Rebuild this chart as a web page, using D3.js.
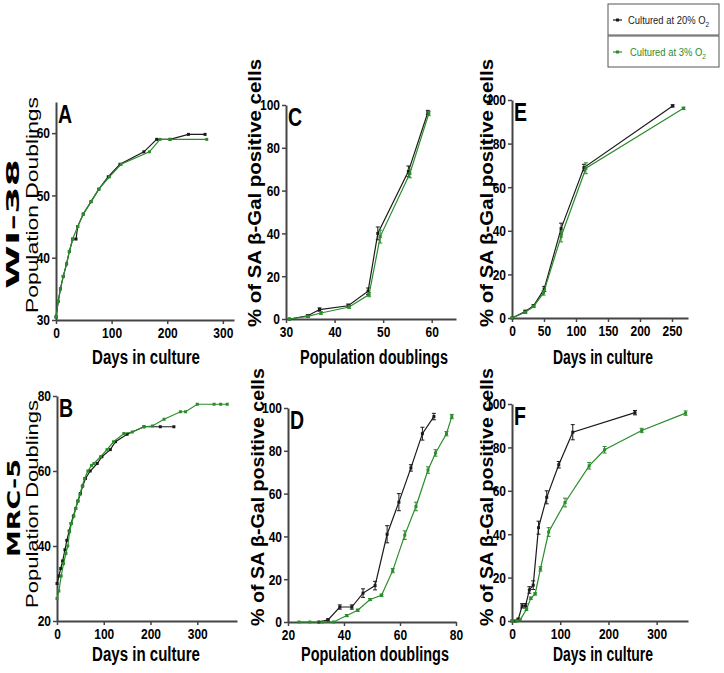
<!DOCTYPE html>
<html>
<head>
<meta charset="utf-8">
<script src="https://cdn.jsdelivr.net/npm/d3@7"></script>
<style>
  body { margin: 0; background: #fff; }
  svg { display: block; }
</style>
</head>
<body>
<svg id="chart"></svg>
<script>
// ---- data ----
// A: WI-38 population doublings vs days
const aDays20 = [0, 4, 8, 13, 19, 24, 30, 36, 39, 49, 63, 77, 94, 115, 158, 181, 205, 238, 268];
const aPD20 = [30.5, 33, 35, 37, 39, 41, 43, 43, 45, 47, 49, 51, 53, 55, 57, 59, 59, 59.8, 59.8];
const aDays3 = [0, 4, 8, 13, 19, 24, 30, 39, 49, 63, 77, 96, 117, 168, 187, 205, 271];
const aPD3 = [30.5, 33, 35, 37, 39, 41, 43, 45, 47, 49, 51, 53, 55, 57, 59, 59, 59];

// B: MRC-5 population doublings vs days
const bDays20 = [0, 4, 8, 12, 17, 21, 26, 30, 35, 40, 45, 50, 55, 61, 71, 86, 96, 114, 125, 150, 186, 221, 250];
const bPD20 = [30, 32, 34, 36, 39, 41.5, 44, 46, 48, 50, 52, 54, 56, 58, 60, 62, 63.8, 65.7, 67.8, 69.8, 71.8, 71.8, 71.8];
const bDays3 = [0, 4, 9, 14, 19, 23, 27, 31, 36, 40, 44, 49, 54, 59, 66, 74, 79, 93, 107, 121, 143, 161, 186, 204, 229, 264, 275, 300, 336, 350, 364];
const bPD3 = [26, 28, 32, 35.3, 38, 40, 43.8, 46, 48, 50, 52, 53.7, 56, 58, 60, 61.5, 62, 63.8, 65.7, 67.8, 70, 70.4, 71.8, 72, 73.8, 75.8, 75.8, 77.8, 77.8, 77.8, 77.8];

// C: WI-38 % SA b-Gal vs population doublings
const cPD20 = [30.7, 34.5, 36.9, 42.8, 46.9, 48.9, 55.2, 59.2];
const cPct20 = [0, 1.5, 4.4, 6.2, 13, 40, 69, 96.5];
const cErr20 = [0, 0.5, 0.8, 0.8, 1.5, 3, 2.5, 1];
const cPD3 = [30.7, 34.5, 37.2, 43, 47.1, 49.4, 55.5, 59.4];
const cPct3 = [0, 1.2, 2.8, 5.6, 11.4, 38.5, 68, 96];
const cErr3 = [0, 0.5, 0.6, 0.6, 1, 3, 2, 1];

// D: MRC-5 % SA b-Gal vs population doublings
const dPD20 = [31, 34.3, 38.5, 42.8, 46.8, 51.1, 55.4, 59.6, 63.9, 68, 72.1];
const dPct20 = [0, 1, 7, 7, 13.5, 17, 41, 56, 72, 88, 96];
const dErr20 = [0, 0.5, 1, 1, 2, 2, 4, 4, 1.5, 3, 1.5];
const dPD3 = [23.9, 27.8, 32.2, 36.3, 41, 44.9, 49.3, 53.4, 57.4, 61.7, 65.7, 70, 72.7, 76.6, 78.5];
const dPct3 = [0, 0, 0, 0, 3, 5.5, 10.5, 12.5, 24, 40.6, 54, 71, 79, 88, 96];
const dErr3 = [0, 0, 0, 0, 0.5, 0.5, 0.5, 0.5, 1, 2, 2, 1.5, 1.5, 1, 1];

// E: WI-38 % SA b-Gal vs days
const eDays20 = [0, 20.7, 33.7, 50.3, 76.7, 112.4, 251];
const ePct20 = [0, 3, 5.6, 13.3, 41, 69, 97.3];
const eErr20 = [0, 0.6, 0.5, 1.2, 2.5, 1.5, 0.5];
const eDays3 = [0, 20.7, 33.7, 49.2, 76.7, 115.5, 268];
const ePct3 = [0, 2.6, 5.3, 11.5, 37.4, 68.7, 96.2];
const eErr3 = [0, 0.5, 0.5, 1, 2.5, 2.5, 0.5];

// F: MRC-5 % SA b-Gal vs days
const fDays20 = [0, 7, 13, 21, 28, 36, 44, 55, 72, 97, 126, 255];
const fPct20 = [0, 0, 0.8, 7, 7, 14.3, 16.5, 43, 57, 72, 87, 96];
const fErr20 = [0, 0, 0.5, 1, 1, 1.5, 2, 3, 3, 1.5, 3.5, 1];
const fDays3 = [0, 10, 17, 30, 39, 48, 59, 76, 110, 160, 192, 269, 360];
const fPct3 = [0, 0, 0.5, 5.4, 10.5, 12.5, 24, 41, 54.6, 71.5, 78.9, 87.8, 95.8];
const fErr3 = [0, 0, 0, 0.5, 0.5, 0.5, 1, 2, 2, 1.5, 1.5, 1, 1];

// tick labels
const ticksDaysA = [0, 100, 200, 300];
const ticksDaysB = [0, 100, 200, 300];
const ticksPDA = [30, 40, 50, 60];
const ticksPDB = [20, 40, 60, 80];
const ticksPct = [0, 20, 40, 60, 80, 100];
const ticksPopC = [30, 40, 50, 60];
const ticksPopD = [20, 40, 60, 80];
const ticksDaysE = [0, 50, 100, 150, 200, 250];
const ticksDaysF = [0, 100, 200, 300];

const legendLabels = ["Cultured at 20% O", "Cultured at 3% O"];

// ---- drawing ----
const W = 724, H = 673;
const BLACK = "#1a1a1a", GREEN = "#2a8c2a";
const SANS = "'Liberation Sans', Arial, sans-serif";
const SQ = 0.8; // the figure is squeezed sideways

const svg = d3.select("#chart").attr("width", W).attr("height", H)
  .style("background", "#fff");

const zip = (xs, ys, es) => xs.map((x, i) => ({ x, y: ys[i], e: es ? es[i] : 0 }));

function panel(p) {
  const x = d3.scaleLinear().domain(p.xDomain).range(p.xRange);
  const y = d3.scaleLinear().domain(p.yDomain).range(p.yRange);
  const g = svg.append("g");

  // axes
  const ax = g.append("g")
    .attr("transform", `translate(0,${p.yRange[0]})`)
    .call(d3.axisBottom(x).tickValues(p.xTicks).tickSize(4).tickPadding(3).tickSizeOuter(0));
  const ay = g.append("g")
    .attr("transform", `translate(${p.xRange[0]},0)`)
    .call(d3.axisLeft(y).tickValues(p.yTicks).tickSize(4).tickPadding(2).tickSizeOuter(0));
  [ax, ay].forEach(a => {
    a.select(".domain").attr("stroke", "#444").attr("stroke-width", 2);
    a.selectAll(".tick line").attr("stroke", "#444").attr("stroke-width", 1.5);
    a.selectAll("text").attr("fill", "#000").attr("font-family", SANS)
      .attr("font-weight", "bold").attr("font-size", 15)
      .attr("transform", `scale(${SQ},1)`);
  });
  ay.selectAll("text").attr("x", -6 / SQ);

  // series
  p.series.forEach(s => {
    const pts = zip(s.xs, s.ys, s.es);
    g.append("path")
      .datum(pts)
      .attr("fill", "none")
      .attr("stroke", s.color)
      .attr("stroke-width", 1.2)
      .attr("d", d3.line().x(d => x(d.x)).y(d => y(d.y)));
    if (s.es) {
      const eb = g.append("g").attr("stroke", s.color).attr("stroke-width", 1);
      pts.filter(d => d.e > 0).forEach(d => {
        const cx = x(d.x), y0 = y(d.y - d.e), y1 = y(d.y + d.e);
        eb.append("line").attr("x1", cx).attr("x2", cx).attr("y1", y0).attr("y2", y1);
        eb.append("line").attr("x1", cx - 2).attr("x2", cx + 2).attr("y1", y0).attr("y2", y0);
        eb.append("line").attr("x1", cx - 2).attr("x2", cx + 2).attr("y1", y1).attr("y2", y1);
      });
    }
    g.selectAll(null).data(pts).enter().append("rect")
      .attr("x", d => x(d.x) - 1.5).attr("y", d => y(d.y) - 1.5)
      .attr("width", 3).attr("height", 3)
      .attr("fill", s.color);
  });

  // panel letter
  g.append("text")
    .attr("transform", `translate(${p.xRange[0] + 2},${p.yRange[1] + 21}) scale(0.75,1)`)
    .attr("font-family", SANS).attr("font-weight", "bold").attr("font-size", 26)
    .text(p.letter);

  // x title
  g.append("text")
    .attr("x", p.xTitleX).attr("y", p.xTitleY)
    .attr("text-anchor", "middle")
    .attr("font-family", SANS).attr("font-weight", "bold").attr("font-size", 20)
    .attr("textLength", p.xTitleLen).attr("lengthAdjust", "spacingAndGlyphs")
    .text(p.xTitle);
}

// rotated text; bx is the baseline position on screen
function vtext(txt, bx, cy, len, size, weight, squeeze, family) {
  svg.append("text")
    .attr("transform", `translate(${bx},${cy}) scale(${squeeze},1) rotate(-90)`)
    .attr("text-anchor", "middle")
    .attr("font-family", family || SANS).attr("font-weight", weight).attr("font-size", size)
    .attr("textLength", len).attr("lengthAdjust", "spacingAndGlyphs")
    .text(txt);
}

panel({
  letter: "A", xDomain: [0, 320], xRange: [56, 234], yDomain: [30, 65], yRange: [320, 102],
  xTicks: ticksDaysA, yTicks: ticksPDA, xTitle: "Days in culture", xTitleX: 146, xTitleY: 364, xTitleLen: 108,
  series: [
    { xs: aDays20, ys: aPD20, color: BLACK },
    { xs: aDays3, ys: aPD3, color: GREEN }
  ]
});
panel({
  letter: "B", xDomain: [0, 385], xRange: [57, 237], yDomain: [20, 80], yRange: [621, 396],
  xTicks: ticksDaysB, yTicks: ticksPDB, xTitle: "Days in culture", xTitleX: 146, xTitleY: 661, xTitleLen: 108,
  series: [
    { xs: bDays20, ys: bPD20, color: BLACK },
    { xs: bDays3, ys: bPD3, color: GREEN }
  ]
});
panel({
  letter: "C", xDomain: [30, 65], xRange: [286, 456], yDomain: [0, 100], yRange: [319, 105],
  xTicks: ticksPopC, yTicks: ticksPct, xTitle: "Population doublings", xTitleX: 374, xTitleY: 364, xTitleLen: 148,
  series: [
    { xs: cPD20, ys: cPct20, es: cErr20, color: BLACK },
    { xs: cPD3, ys: cPct3, es: cErr3, color: GREEN }
  ]
});
panel({
  letter: "D", xDomain: [20, 80], xRange: [288, 456], yDomain: [0, 100], yRange: [622, 408],
  xTicks: ticksPopD, yTicks: ticksPct, xTitle: "Population doublings", xTitleX: 375, xTitleY: 661, xTitleLen: 148,
  series: [
    { xs: dPD20, ys: dPct20, es: dErr20, color: BLACK },
    { xs: dPD3, ys: dPct3, es: dErr3, color: GREEN }
  ]
});
panel({
  letter: "E", xDomain: [0, 275], xRange: [512, 688], yDomain: [0, 100], yRange: [318, 100],
  xTicks: ticksDaysE, yTicks: ticksPct, xTitle: "Days in culture", xTitleX: 603, xTitleY: 364, xTitleLen: 100,
  series: [
    { xs: eDays20, ys: ePct20, es: eErr20, color: BLACK },
    { xs: eDays3, ys: ePct3, es: eErr3, color: GREEN }
  ]
});
panel({
  letter: "F", xDomain: [0, 365], xRange: [512, 688], yDomain: [0, 100], yRange: [621, 404],
  xTicks: ticksDaysF, yTicks: ticksPct, xTitle: "Days in culture", xTitleX: 603, xTitleY: 661, xTitleLen: 100,
  series: [
    { xs: fDays20, ys: fPct20, es: fErr20, color: BLACK },
    { xs: fDays3, ys: fPct3, es: fErr3, color: GREEN }
  ]
});

// rotated labels
const HEAVY = "'DejaVu Sans', 'Liberation Sans', sans-serif";
vtext("WI-38", 19, 224, 130, 21, "bold", 0.85, HEAVY);
vtext("Population Doublings", 38, 205, 216, 21, "normal", 0.8);
vtext("MRC-5", 20, 508, 98, 21, "bold", 0.85, HEAVY);
vtext("Population Doublings", 38, 504, 208, 21, "normal", 0.8);
vtext("% of SA \u03b2-Gal positive cells", 261, 193, 268, 20, "bold", 0.9);
vtext("% of SA \u03b2-Gal positive cells", 264, 497, 258, 20, "bold", 0.9);
vtext("% of SA \u03b2-Gal positive cells", 493, 193, 268, 20, "bold", 0.9);
vtext("% of SA \u03b2-Gal positive cells", 493, 497, 258, 20, "bold", 0.9);

// legend
const legend = svg.append("g");
[BLACK, GREEN].forEach((c, i) => {
  const top = 4 + i * 32;
  legend.append("rect").attr("x", 608).attr("y", top).attr("width", 111).attr("height", 31)
    .attr("fill", "#fff").attr("stroke", "#555").attr("stroke-width", 1);
  legend.append("line").attr("x1", 613).attr("x2", 622).attr("y1", top + 16).attr("y2", top + 16)
    .attr("stroke", c).attr("stroke-width", 1.2);
  legend.append("rect").attr("x", 616).attr("y", top + 14.5).attr("width", 3).attr("height", 3).attr("fill", c);
  const t = legend.append("text")
    .attr("transform", `translate(${628 + i * 2},${top + 20}) scale(0.82,1)`)
    .attr("font-family", SANS).attr("font-size", 11.5).attr("fill", c)
    .text(legendLabels[i]);
  t.append("tspan").attr("dy", 3).attr("font-size", 8).text("2");
});
</script>
</body>
</html>
